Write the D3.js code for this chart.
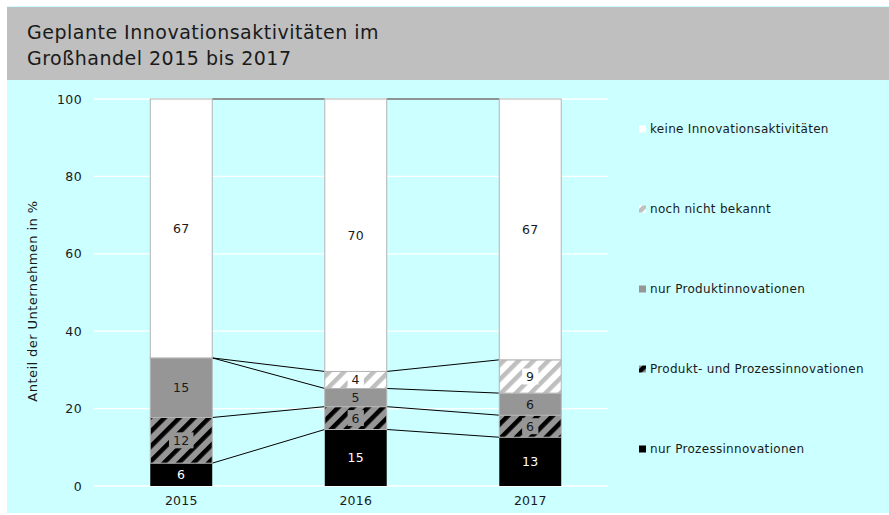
<!DOCTYPE html>
<html>
<head>
<meta charset="utf-8">
<script src="https://cdn.jsdelivr.net/npm/d3@7"></script>
<style>
  body { margin: 0; background: #fff; }
  text { font-family: "DejaVu Sans", Verdana, sans-serif; }
</style>
</head>
<body>
<svg id="chart"></svg>
<script>
const [WIDTH, HEIGHT] = [889, 515]

// data (Anteil in %)
const years = ["2015", "2016", "2017"]
const seriesNames = ["nur Prozessinnovationen", "Produkt- und Prozessinnovationen",
    "nur Produktinnovationen", "noch nicht bekannt", "keine Innovationsaktivitäten"]
const nurProzess = [5.9, 14.6, 12.6]
const produktUndProzess = [11.8, 5.9, 5.7]
const nurProdukt = [15.4, 4.7, 5.7]
const nochNichtBekannt = [0, 4.4, 8.6]
const keine = [66.9, 70.4, 67.4]
const yTicks = [0, 20, 40, 60, 80, 100]
const titleLines = ["Geplante Innovationsaktivitäten im", "Großhandel 2015 bis 2017"]
const yTitle = "Anteil der Unternehmen in %"

const TXT = "#1a1a1a"

const svg = d3.select("#chart")
    .attr("width", WIDTH).attr("height", HEIGHT)
    .attr("viewBox", "0 0 " + WIDTH + " " + HEIGHT)

// patterns
const defs = svg.append("defs")
function stripes(id, bg, fg) {
    const p = defs.append("pattern")
        .attr("id", id)
        .attr("patternUnits", "userSpaceOnUse")
        .attr("width", 10.5).attr("height", 10.5)
        .attr("patternTransform", "rotate(45)")
    p.append("rect").attr("width", 10.5).attr("height", 10.5).attr("fill", bg)
    p.append("rect").attr("width", 4.5).attr("height", 10.5).attr("fill", fg)
}
stripes("ppStripes", "#969696", "#000")
stripes("nochStripes", "#fff", "#bfbfbf")

const fills = ["#000", "url(#ppStripes)", "#969696", "url(#nochStripes)", "#fff"]
const labelBg = ["#000", "#969696", "#969696", "#fff", "#fff"]
const labelColor = ["#fff", TXT, TXT, TXT, TXT]

// backgrounds
svg.append("rect").attr("x", 7).attr("y", 6).attr("width", WIDTH - 7).attr("height", 507).attr("fill", "#ccffff")
svg.append("rect").attr("x", 7).attr("y", 7).attr("width", WIDTH - 7).attr("height", 73).attr("fill", "#bfbfbf")

svg.append("text")
    .attr("x", 27).attr("y", 39)
    .attr("font-size", 19)
    .attr("letter-spacing", 0.5)
    .style("fill", TXT)
    .selectAll("tspan")
    .data(titleLines)
    .join("tspan")
    .attr("x", 27)
    .attr("dy", (d, i) => i === 0 ? 0 : 26)
    .text(d => d)

// scales
const x = d3.scaleBand().domain(years).range([94, 617.5]).paddingInner(0.645).paddingOuter(0.3225)
const y = d3.scaleLinear().domain([0, 100]).range([486, 99])

// gridlines
svg.append("g")
    .selectAll("line")
    .data(yTicks)
    .join("line")
    .attr("x1", 94).attr("x2", 608)
    .attr("y1", d => y(d)).attr("y2", d => y(d))
    .attr("stroke", "#fff").attr("stroke-width", 1.3)

// axes
const yAxis = svg.append("g")
    .attr("transform", "translate(94,0)")
    .call(d3.axisLeft(y).tickValues(yTicks).tickSize(0).tickPadding(12))
yAxis.select(".domain").remove()
yAxis.selectAll("text").attr("font-size", 12.5).attr("letter-spacing", 0.4)
    .style("font-family", "DejaVu Sans, sans-serif").style("fill", TXT)

const xAxis = svg.append("g")
    .attr("transform", "translate(0,486)")
    .call(d3.axisBottom(x).tickSize(0).tickPadding(10))
xAxis.select(".domain").remove()
xAxis.selectAll("text").attr("font-size", 12.5).attr("letter-spacing", 0.2)
    .style("font-family", "DejaVu Sans, sans-serif").style("fill", TXT)

svg.append("text")
    .attr("transform", "translate(37,301) rotate(-90)")
    .attr("text-anchor", "middle")
    .attr("font-size", 13)
    .attr("letter-spacing", 0.45)
    .style("fill", TXT)
    .text(yTitle)

// stacked data
const table = years.map((yr, i) => ({
    year: yr,
    s0: nurProzess[i], s1: produktUndProzess[i], s2: nurProdukt[i],
    s3: nochNichtBekannt[i], s4: keine[i]
}))
const keys = ["s0", "s1", "s2", "s3", "s4"]
const stacked = d3.stack().keys(keys)(table)

// series lines between bars
const lines = svg.append("g")
stacked.forEach((layer, k) => {
    for (let i = 0; i < years.length - 1; i++) {
        lines.append("line")
            .attr("x1", x(years[i]) + x.bandwidth()).attr("y1", y(layer[i][1]))
            .attr("x2", x(years[i + 1])).attr("y2", y(layer[i + 1][1]))
            .attr("stroke", k === 4 ? "#6e6e6e" : "#000")
            .attr("stroke-width", k === 4 ? 1.5 : 1)
    }
})

// bars
const layers = svg.append("g")
    .selectAll("g")
    .data(stacked)
    .join("g")
    .attr("fill", (d, k) => fills[k])

layers.selectAll("rect")
    .data(d => d)
    .join("rect")
    .attr("x", d => x(d.data.year))
    .attr("width", x.bandwidth())
    .attr("y", d => y(d[1]))
    .attr("height", d => y(d[0]) - y(d[1]))
    .attr("stroke", function () { return d3.select(this.parentNode).datum().index === 0 ? "none" : "#b4b4b4" })
    .attr("stroke-width", 1)

// data labels
stacked.forEach((layer, k) => {
    layer.forEach(d => {
        const v = d[1] - d[0]
        if (v <= 0) return
        const cx = x(d.data.year) + x.bandwidth() / 2
        const cy = y((d[0] + d[1]) / 2)
        const g = svg.append("g")
        const box = g.append("rect").attr("fill", labelBg[k])
        const t = g.append("text")
            .attr("x", cx).attr("y", cy)
            .attr("text-anchor", "middle")
            .attr("dominant-baseline", "central")
            .attr("font-size", 12.5)
            .attr("letter-spacing", 0.3)
            .style("fill", labelColor[k])
            .text(Math.round(v))
        const w = t.node().getComputedTextLength()
        if (k === 1 || k === 3) {
            box.attr("x", cx - w / 2 - 4).attr("y", cy - 8).attr("width", w + 8).attr("height", 16)
        }
    })
})

// legend
const legendY = [449, 369, 289, 209, 129]
const legend = svg.append("g")
    .selectAll("g")
    .data(seriesNames)
    .join("g")
    .attr("transform", (d, k) => "translate(639," + legendY[k] + ")")
legend.append("rect")
    .attr("x", 0).attr("y", -3.5).attr("width", 7).attr("height", 7)
    .attr("fill", (d, k) => fills[k])
legend.append("text")
    .attr("x", 11).attr("y", 0)
    .attr("dominant-baseline", "central")
    .attr("font-size", 12)
    .attr("letter-spacing", 0.3)
    .style("fill", TXT)
    .text(d => d)
</script>
</body>
</html>
